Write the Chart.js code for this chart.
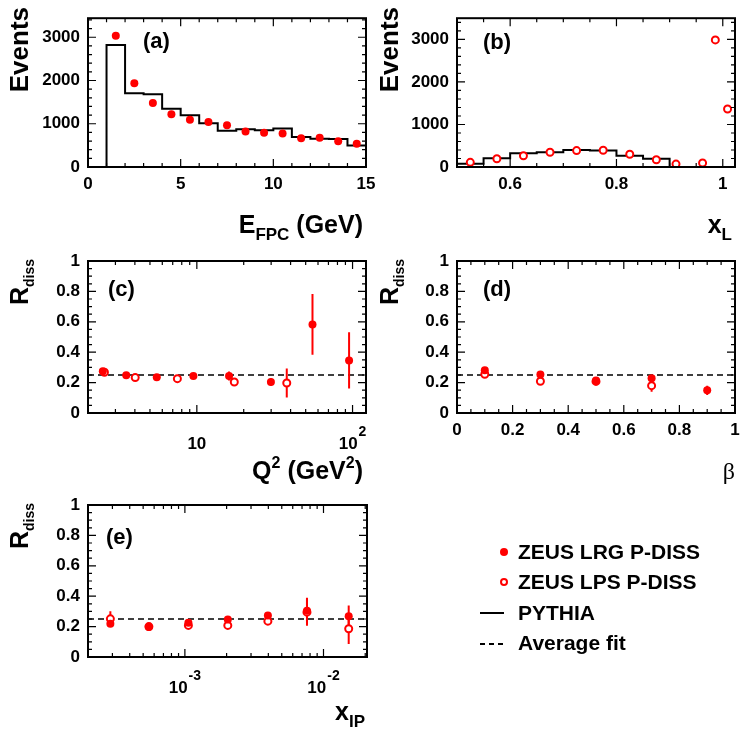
<!DOCTYPE html>
<html>
<head>
<meta charset="utf-8">
<script src="https://cdn.jsdelivr.net/npm/chart.js@4.4.1/dist/chart.umd.min.js"></script>
<style>
  body { margin: 0; background: #fff; }
  #wrap { position: relative; width: 748px; height: 735px; overflow: hidden;
          font-family: 'Liberation Sans', Arial, sans-serif; font-weight: bold; color: #000; }
  #wrap canvas { position: absolute; left: 0; top: 0; }
  .t { position: absolute; white-space: nowrap; line-height: 1; }
  .rot { transform-origin: 0 0; transform: rotate(-90deg) translateX(-100%); }
  .sub { position: relative; font-size: 14px; top: 6px; }
  .sb { position: relative; font-size: 17px; top: 7px; }
  .sp { position: relative; font-size: 16px; top: -11px; }
  .mk { position: absolute; box-sizing: border-box; border-radius: 50%; }
</style>
</head>
<body>
<div id="wrap">
  <canvas id="cA" width="748" height="735"></canvas>
  <canvas id="cB" width="748" height="735"></canvas>
  <canvas id="cC" width="748" height="735"></canvas>
  <canvas id="cD" width="748" height="735"></canvas>
  <canvas id="cE" width="748" height="735"></canvas>

  <!-- axis titles -->
  <div class="t rot" style="left:6px;top:7px;font-size:26px">Events</div>
  <div class="t rot" style="left:376px;top:7px;font-size:26px">Events</div>
  <div class="t rot" style="left:7px;top:259px;font-size:25px">R<span class="sub">diss</span></div>
  <div class="t rot" style="left:377px;top:259px;font-size:25px">R<span class="sub">diss</span></div>
  <div class="t rot" style="left:7px;top:503px;font-size:25px">R<span class="sub">diss</span></div>

  <div class="t" style="right:385px;top:212px;font-size:25px">E<span class="sb">FPC</span> (GeV)</div>
  <div class="t" style="right:16px;top:212px;font-size:25px">x<span class="sb">L</span></div>
  <div class="t" style="right:385px;top:458px;font-size:25px">Q<span class="sp">2</span> (GeV<span class="sp">2</span>)</div>
  <div class="t" style="right:13px;top:458px;font:normal 24px 'Liberation Serif', serif">β</div>
  <div class="t" style="right:383px;top:699px;font-size:25px">x<span class="sb">IP</span></div>

  <!-- panel letters -->
  <div class="t" style="left:143px;top:30px;font-size:22px">(a)</div>
  <div class="t" style="left:483px;top:31px;font-size:22px">(b)</div>
  <div class="t" style="left:108px;top:278px;font-size:22px">(c)</div>
  <div class="t" style="left:483px;top:278px;font-size:22px">(d)</div>
  <div class="t" style="left:106px;top:526px;font-size:22px">(e)</div>

  <!-- legend -->
  <div class="mk" style="left:500px;top:548px;width:8px;height:8px;background:#ff0000"></div>
  <div class="t" style="left:518px;top:541px;font-size:21px">ZEUS LRG P-DISS</div>
  <div class="mk" style="left:500px;top:578px;width:8px;height:8px;border:2px solid #ff0000;background:#fff"></div>
  <div class="t" style="left:518px;top:571px;font-size:21px">ZEUS LPS P-DISS</div>
  <div style="position:absolute;left:480px;top:612px;width:24px;height:2px;background:#000"></div>
  <div class="t" style="left:518px;top:602px;font-size:21px">PYTHIA</div>
  <div style="position:absolute;left:480px;top:643px;width:23px;height:1.5px;background:repeating-linear-gradient(90deg,#000 0 5px,transparent 5px 9px)"></div>
  <div class="t" style="left:518px;top:632px;font-size:21px">Average fit</div>
</div>

<script>
// (a) forward plug calorimeter energy
const fpcBinEdges = [1, 2, 3, 4, 5, 6, 7, 8, 9, 10, 11, 12, 13, 14, 15];
const fpcPythia = [2819, 1703, 1681, 1349, 1198, 1010, 837, 874, 852, 889, 693, 655, 650, 497];
const fpcCentres = [1.5, 2.5, 3.5, 4.5, 5.5, 6.5, 7.5, 8.5, 9.5, 10.5, 11.5, 12.5, 13.5, 14.5];
const fpcEvents = [3037, 1937, 1477, 1221, 1093, 1040, 965, 821, 791, 776, 663, 678, 595, 535];

// (b) x_L
const xlBinEdges = [0.5, 0.55, 0.6, 0.65, 0.7, 0.75, 0.8, 0.85, 0.9];
const xlPythia = [78, 208, 324, 347, 402, 386, 264, 194];
const xlCentres = [0.525, 0.575, 0.625, 0.675, 0.725, 0.775, 0.825, 0.875, 0.912, 0.962, 0.986, 1.009];
const xlEvents = [109, 194, 264, 347, 386, 393, 301, 171, 69, 93, 2990, 1365];

// (c) Q2
const lrgQ2 = [2.49, 3.52, 5.53, 9.5, 16.1, 29.9, 55.3, 95];
const lrgQ2R = [0.274, 0.248, 0.235, 0.243, 0.243, 0.204, 0.583, 0.346];
const lrgQ2Err = [0.01, 0.01, 0.01, 0.01, 0.03, 0.025, 0.2, 0.185];
const lpsQ2 = [2.55, 4.02, 7.5, 17.4, 37.8];
const lpsQ2R = [0.268, 0.233, 0.226, 0.204, 0.197];
const lpsQ2Err = [0.01, 0.01, 0.01, 0.02, 0.095];

// (d) beta
const lrgBeta = [0.1, 0.3, 0.5, 0.7, 0.9];
const lrgBetaR = [0.281, 0.253, 0.213, 0.228, 0.149];
const lrgBetaErr = [0.01, 0.01, 0.015, 0.01, 0.03];
const lpsBeta = [0.1, 0.3, 0.5, 0.7];
const lpsBetaR = [0.255, 0.209, 0.208, 0.18];
const lpsBetaErr = [0.01, 0.015, 0.015, 0.04];

// (e) x_IP
const xipVals = [2.9e-4, 5.5e-4, 1.06e-3, 2.04e-3, 3.97e-3, 7.6e-3, 1.52e-2];
const lrgXipR = [0.219, 0.198, 0.225, 0.247, 0.273, 0.305, 0.268];
const lrgXipErr = [0.01, 0.01, 0.01, 0.01, 0.01, 0.085, 0.07];
const lpsXipR = [0.251, 0.2, 0.208, 0.208, 0.236, 0.295, 0.186];
const lpsXipErr = [0.05, 0.01, 0.01, 0.01, 0.025, 0.09, 0.1];

const avgFit = 0.25;

const FONT = "'Liberation Sans', Arial, sans-serif";
const RED = '#ff0000';
const W = 748, H = 735;

function range(a, b, step) {
    const r = [];
    for (let v = a; v <= b + 1e-9; v += step) r.push(+v.toFixed(6));
    return r;
}
const logMinor = (decades) => decades.flatMap(d => [2, 3, 4, 5, 6, 7, 8, 9].map(k => +(k * d).toPrecision(6)));

// helpers that turn the arrays into chart.js datasets
function histo(edges, vals) {
    const pts = [{ x: edges[0], y: 0 }];
    vals.forEach((v, i) => pts.push({ x: edges[i], y: v }));
    pts.push({ x: edges[edges.length - 1], y: vals[vals.length - 1] });
    pts.push({ x: edges[edges.length - 1], y: 0 });
    // 'before' = horizontal first, then the vertical edge
    return { data: pts, showLine: true, stepped: 'before', borderColor: '#000', borderWidth: 2, pointRadius: 0 };
}
function points(xs, ys, open) {
    return {
        data: xs.map((x, i) => ({ x: x, y: ys[i] })),
        pointRadius: open ? 3.5 : 4,
        pointBorderWidth: open ? 2 : 0,
        pointBorderColor: RED,
        pointBackgroundColor: open ? '#fff' : RED
    };
}
function errBars(xs, ys, errs) {
    const pts = [];
    xs.forEach((x, i) => {
        pts.push({ x: x, y: ys[i] - errs[i] }, { x: x, y: ys[i] + errs[i] }, { x: x, y: null });
    });
    return { data: pts, showLine: true, spanGaps: false, borderColor: RED, borderWidth: 2, pointRadius: 0 };
}
function fitLine(x0, x1) {
    return { data: [{ x: x0, y: avgFit }, { x: x1, y: avgFit }], showLine: true, borderColor: '#000',
             borderWidth: 1.5, borderDash: [6, 4], pointRadius: 0 };
}

// ROOT-like frame with inward ticks on all sides
function framePlugin(t) {
    return {
        id: 'rootFrame',
        afterDatasetsDraw(chart) {
            const { ctx, chartArea: a } = chart;
            const xs = chart.scales.x, ys = chart.scales.y;
            ctx.save();
            ctx.strokeStyle = '#000';
            ctx.lineWidth = 1.2;
            ctx.beginPath();
            const xt = (vals, len) => vals.forEach(v => {
                const p = xs.getPixelForValue(v);
                if (p < a.left - 0.5 || p > a.right + 0.5) return;
                ctx.moveTo(p, a.bottom); ctx.lineTo(p, a.bottom - len);
                ctx.moveTo(p, a.top); ctx.lineTo(p, a.top + len);
            });
            const yt = (vals, len) => vals.forEach(v => {
                const p = ys.getPixelForValue(v);
                if (p < a.top - 0.5 || p > a.bottom + 0.5) return;
                ctx.moveTo(a.left, p); ctx.lineTo(a.left + len, p);
                ctx.moveTo(a.right, p); ctx.lineTo(a.right - len, p);
            });
            xt(t.xMinor, 4); xt(t.xMajor, 8);
            yt(t.yMinor, 4); yt(t.yMajor, 8);
            ctx.stroke();
            ctx.lineWidth = 2;
            ctx.strokeRect(a.left, a.top, a.right - a.left, a.bottom - a.top);
            ctx.restore();
        }
    };
}

// 10^n labels for log axes
function logLabelPlugin(vals) {
    return {
        id: 'logLabels',
        afterDraw(chart) {
            const { ctx, chartArea: a } = chart;
            ctx.save();
            ctx.fillStyle = '#000';
            ctx.textBaseline = 'alphabetic';
            vals.forEach(v => {
                const e = Math.round(Math.log10(v));
                const sup = e === 1 ? '' : String(e);
                ctx.font = 'bold 17px ' + FONT;
                const wb = ctx.measureText('10').width;
                ctx.font = 'bold 14px ' + FONT;
                const we = sup ? ctx.measureText(sup).width + 1 : 0;
                const x0 = chart.scales.x.getPixelForValue(v) - (wb + we) / 2;
                const yb = a.bottom + 36;
                ctx.font = 'bold 17px ' + FONT;
                ctx.fillText('10', x0, yb);
                if (sup) {
                    ctx.font = 'bold 14px ' + FONT;
                    ctx.fillText(sup, x0 + wb + 1, yb - 13);
                }
            });
            ctx.restore();
        }
    };
}

function panel(id, frame, c) {
    const yW = 60, xH = 30;
    const tickFont = { family: FONT, size: 17, weight: 'bold' };
    const isLog = c.xType === 'logarithmic';
    const plugins = [framePlugin(c)];
    if (isLog) plugins.push(logLabelPlugin(c.xMajor));
    return new Chart(document.getElementById(id), {
        type: 'scatter',
        data: { datasets: c.datasets },
        options: {
            responsive: false,
            animation: false,
            events: [],
            layout: { padding: { left: frame.l - yW, top: frame.t, right: W - frame.r, bottom: H - frame.b - xH } },
            plugins: { legend: { display: false }, tooltip: { enabled: false } },
            scales: {
                x: {
                    type: c.xType || 'linear',
                    min: c.xMin, max: c.xMax,
                    grid: { display: false, drawTicks: false },
                    border: { display: false },
                    afterFit: s => { s.height = xH; },
                    afterBuildTicks: s => { s.ticks = c.xMajor.map(v => ({ value: v })); },
                    ticks: { display: !isLog, autoSkip: false, maxRotation: 0, padding: 7,
                             color: '#000', font: tickFont, callback: v => String(v) }
                },
                y: {
                    min: c.yMin, max: c.yMax,
                    grid: { display: false, drawTicks: false },
                    border: { display: false },
                    afterFit: s => { s.width = yW; },
                    afterBuildTicks: s => { s.ticks = c.yMajor.map(v => ({ value: v })); },
                    ticks: { autoSkip: false, padding: 8, color: '#000', font: tickFont,
                             callback: v => String(v) }
                }
            }
        },
        plugins: plugins
    });
}

const rTicks = { yMin: 0, yMax: 1, yMajor: range(0, 1, 0.2), yMinor: range(0, 1, 0.05) };

panel('cA', { l: 88, t: 15, r: 366, b: 167 }, {
    xMin: 0, xMax: 15, yMin: 0, yMax: 3440,
    xMajor: [0, 5, 10, 15], xMinor: range(0, 15, 1),
    yMajor: [0, 1000, 2000, 3000], yMinor: range(0, 3400, 200),
    datasets: [points(fpcCentres, fpcEvents, false), histo(fpcBinEdges, fpcPythia)]
});

panel('cB', { l: 457, t: 15, r: 735, b: 167 }, {
    xMin: 0.5, xMax: 1.023, yMin: 0, yMax: 3500,
    xMajor: [0.6, 0.8, 1], xMinor: range(0.5, 1, 0.05),
    yMajor: [0, 1000, 2000, 3000], yMinor: range(0, 3400, 200),
    datasets: [points(xlCentres, xlEvents, true), histo(xlBinEdges, xlPythia)]
});

panel('cC', { l: 88, t: 261, r: 366, b: 413 }, Object.assign({
    xType: 'logarithmic', xMin: 2, xMax: 122,
    xMajor: [10, 100], xMinor: logMinor([1, 10]),
    datasets: [
        points(lrgQ2, lrgQ2R, false), points(lpsQ2, lpsQ2R, true),
        errBars(lrgQ2, lrgQ2R, lrgQ2Err), errBars(lpsQ2, lpsQ2R, lpsQ2Err),
        fitLine(2, 122)
    ]
}, rTicks));

panel('cD', { l: 457, t: 261, r: 735, b: 413 }, Object.assign({
    xMin: 0, xMax: 1,
    xMajor: range(0, 1, 0.2), xMinor: range(0, 1, 0.05),
    datasets: [
        points(lrgBeta, lrgBetaR, false), points(lpsBeta, lpsBetaR, true),
        errBars(lrgBeta, lrgBetaR, lrgBetaErr), errBars(lpsBeta, lpsBetaR, lpsBetaErr),
        fitLine(0, 1)
    ]
}, rTicks));

panel('cE', { l: 88, t: 505, r: 367, b: 657 }, Object.assign({
    xType: 'logarithmic', xMin: 2e-4, xMax: 0.0206,
    xMajor: [1e-3, 1e-2], xMinor: logMinor([1e-4, 1e-3, 1e-2]),
    datasets: [
        points(xipVals, lrgXipR, false), points(xipVals, lpsXipR, true),
        errBars(xipVals, lrgXipR, lrgXipErr), errBars(xipVals, lpsXipR, lpsXipErr),
        fitLine(2e-4, 0.0206)
    ]
}, rTicks));
</script>
</body>
</html>
